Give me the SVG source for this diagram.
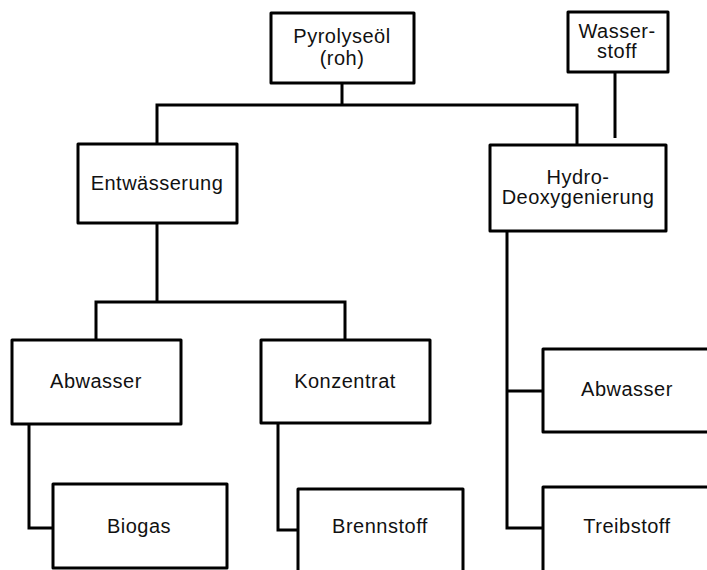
<svg xmlns="http://www.w3.org/2000/svg" width="707" height="570" viewBox="0 0 707 570">
<style>
.box{fill:#fff;stroke:#000;stroke-width:3;stroke-linejoin:round}
.con{fill:none;stroke:#000;stroke-width:3;stroke-linejoin:miter}
text{font-family:"Liberation Sans",Arial,sans-serif;font-size:20px;letter-spacing:0.5px;text-anchor:middle;fill:#111}
</style>
<rect width="707" height="570" fill="#fff"/>
<g id="connectors">
<path class="con" d="M342 83V105"/>
<path class="con" d="M157 144V105H577V145"/>
<path class="con" d="M615 72V138"/>
<path class="con" d="M157 223V302"/>
<path class="con" d="M96 340V302H345V340"/>
<path class="con" d="M29 424V528H53"/>
<path class="con" d="M278 423V530H298"/>
<path class="con" d="M507 231V528H543"/>
<path class="con" d="M507 391H543"/>
</g>
<g id="pyrolyseoel"><rect class="box" x="271" y="13" width="143" height="70"/><text x="342" y="43">Pyrolyseöl</text><text x="342" y="65">(roh)</text></g>
<g id="wasserstoff"><rect class="box" x="568" y="12" width="100" height="60"/><text x="617" y="38">Wasser-</text><text x="617" y="58">stoff</text></g>
<g id="entwaesserung"><rect class="box" x="78" y="144" width="159" height="79"/><text x="157" y="190">Entwässerung</text></g>
<g id="hydrodeoxygenierung"><rect class="box" x="490" y="145" width="176" height="86"/><text x="578" y="184">Hydro-</text><text x="578" y="204">Deoxygenierung</text></g>
<g id="abwasser1"><rect class="box" x="12" y="340" width="169" height="84"/><text x="96" y="388">Abwasser</text></g>
<g id="konzentrat"><rect class="box" x="261" y="340" width="169" height="83"/><text x="345" y="388">Konzentrat</text></g>
<g id="biogas"><rect class="box" x="53" y="484" width="174" height="84"/><text x="139" y="533">Biogas</text></g>
<g id="brennstoff"><rect class="box" x="298" y="489" width="165" height="100"/><text x="380" y="533">Brennstoff</text></g>
<g id="abwasser2"><rect class="box" x="543" y="349" width="200" height="83"/><text x="627" y="396">Abwasser</text></g>
<g id="treibstoff"><rect class="box" x="543" y="487" width="200" height="100"/><text x="627" y="533">Treibstoff</text></g>
</svg>
